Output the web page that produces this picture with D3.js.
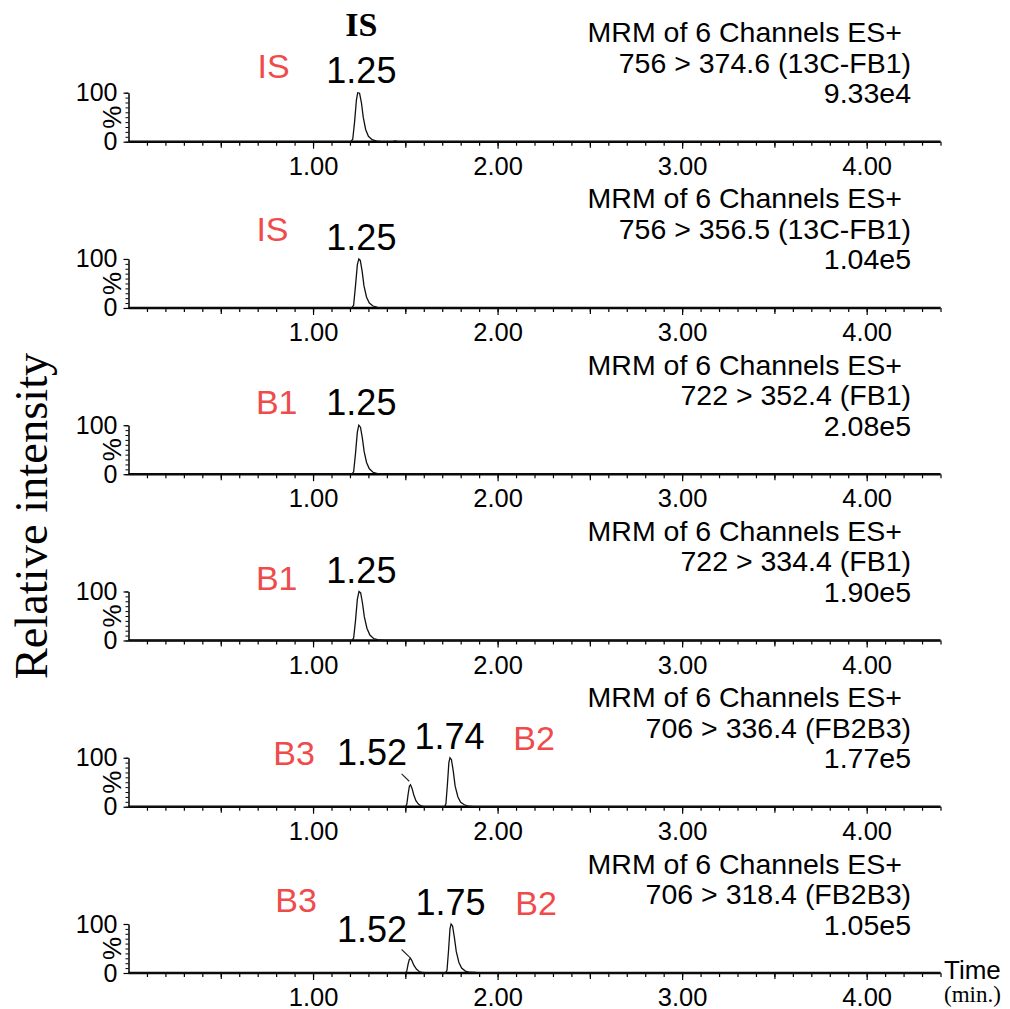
<!DOCTYPE html>
<html>
<head>
<meta charset="utf-8">
<script src="https://cdn.jsdelivr.net/npm/d3@7"></script>
<style>
  body { margin: 0; background: #fff; }
  svg { display: block; }
</style>
</head>
<body>
<div id="chart"></div>
<script>
// chart values
const timeDomain = [0, 4.4];
const majorTicks = [1, 2, 3, 4];
const minorTicks = d3.range(1, 45).map(i => i / 10);
const halfTicks = [0.5, 1.5, 2.5, 3.5];
const pctTicks = [0, 10, 20, 30, 40, 50, 60, 70, 80, 90, 100];

const headerLine = "MRM of 6 Channels ES+";
const transitions = [
  "756 > 374.6 (13C-FB1)",
  "756 > 356.5 (13C-FB1)",
  "722 > 352.4 (FB1)",
  "722 > 334.4 (FB1)",
  "706 > 336.4 (FB2B3)",
  "706 > 318.4 (FB2B3)"
];
const maxIntensity = ["9.33e4", "1.04e5", "2.08e5", "1.90e5", "1.77e5", "1.05e5"];

// compound names (red), placed at [time, percent]
const compoundLabels = [
  [{text: "IS", t: 0.786, pct: 129}],
  [{text: "IS", t: 0.78, pct: 137}],
  [{text: "B1", t: 0.803, pct: 122}],
  [{text: "B1", t: 0.803, pct: 103}],
  [{text: "B3", t: 0.897, pct: 86}, {text: "B2", t: 2.198, pct: 115}],
  [{text: "B3", t: 0.908, pct: 124}, {text: "B2", t: 2.209, pct: 118}]
];

// retention-time labels, placed at [time, percent]
const peakLabels = [
  [{text: "1.25", t: 1.262, pct: 119}],
  [{text: "1.25", t: 1.262, pct: 119}],
  [{text: "1.25", t: 1.262, pct: 120}],
  [{text: "1.25", t: 1.262, pct: 118}],
  [{text: "1.52", t: 1.32, pct: 86}, {text: "1.74", t: 1.74, pct: 118}],
  [{text: "1.52", t: 1.32, pct: 64}, {text: "1.75", t: 1.745, pct: 118}]
];

const leaders = [
  null, null, null, null,
  [[1.48, 67], [1.521, 52]],
  [[1.48, 48], [1.527, 31]]
];

// chromatogram traces [time, %]
const traces = [
  [[0,0],[1.205,0],[1.215,5],[1.225,40],[1.235,85],[1.242,100],[1.252,99],[1.262,80],[1.272,50],[1.285,25],[1.30,11],[1.32,4],[1.345,1],[1.37,0],[1.43,0],[1.445,1.5],[1.46,0],[4.4,0]],
  [[0,0],[1.21,0],[1.22,6],[1.23,45],[1.24,88],[1.248,100],[1.256,97],[1.266,75],[1.276,45],[1.29,22],[1.305,10],[1.325,4],[1.35,1],[1.375,0],[4.4,0]],
  [[0,0],[1.21,0],[1.22,5],[1.23,42],[1.24,86],[1.248,100],[1.257,96],[1.267,74],[1.277,46],[1.29,24],[1.305,11],[1.325,4],[1.35,1],[1.38,0],[4.4,0]],
  [[0,0],[1.21,0],[1.22,5],[1.23,40],[1.24,84],[1.249,100],[1.258,97],[1.268,76],[1.278,48],[1.292,25],[1.308,11],[1.328,4],[1.355,1],[1.385,0],[4.4,0]],
  [[0,0],[1.50,0],[1.508,5],[1.515,25],[1.522,42],[1.528,45],[1.536,38],[1.546,24],[1.558,12],[1.572,5],[1.59,1],[1.60,0],
   [1.712,0],[1.72,6],[1.728,45],[1.736,90],[1.742,100],[1.75,96],[1.76,72],[1.77,42],[1.785,20],[1.80,9],[1.82,4],[1.845,1],[1.87,0],[4.4,0]],
  [[0,0],[1.50,0],[1.508,4],[1.515,18],[1.522,28],[1.528,30],[1.536,25],[1.546,16],[1.56,8],[1.575,3],[1.595,1],[1.615,0],
   [1.718,0],[1.726,6],[1.734,45],[1.742,90],[1.748,100],[1.756,96],[1.766,72],[1.776,44],[1.79,22],[1.805,10],[1.825,4],[1.85,1.5],[1.88,1],[1.90,0],[4.4,0]]
];

const width = 1010, height = 1009;
const red = "#ef4b4b";
const sans = "'Liberation Sans', Arial, sans-serif";
const serif = "'Liberation Serif', 'Times New Roman', serif";

const svg = d3.select("#chart")
  .append("svg")
    .attr("width", width)
    .attr("height", height);

svg.append("rect")
  .attr("width", width)
  .attr("height", height)
  .attr("fill", "#fff");

const x = d3.scaleLinear()
  .domain(timeDomain)
  .range([128.5, 940.5]);

// baseline of each panel
const panelBase = d3.scaleLinear()
  .domain([0, transitions.length - 1])
  .range([141.7, 973]);

const line = d3.line();

transitions.forEach(function(tr, i) {
  const base = panelBase(i);
  const y = d3.scaleLinear().domain([0, 100]).range([base, base - 49]);
  const g = svg.append("g");

  // minor x ticks
  g.append("g")
    .attr("transform", `translate(0, ${base})`)
    .call(d3.axisBottom(x).tickValues(minorTicks).tickSize(4).tickFormat(""))
    .call(a => a.select(".domain").remove())
    .call(a => a.selectAll("line").attr("stroke-width", 1.2));

  g.append("g")
    .attr("transform", `translate(0, ${base})`)
    .call(d3.axisBottom(x).tickValues(halfTicks).tickSize(6).tickFormat(""))
    .call(a => a.select(".domain").remove())
    .call(a => a.selectAll("line").attr("stroke-width", 1.2));

  // major x ticks and labels
  g.append("g")
    .attr("transform", `translate(0, ${base})`)
    .call(d3.axisBottom(x).tickValues(majorTicks).tickSize(7).tickSizeOuter(0)
      .tickPadding(8).tickFormat(d3.format(".2f")))
    .call(a => a.select(".domain").attr("stroke-width", 2.6).attr("d", `M${x(0)},0H${x(4.4)}`))
    .call(a => a.selectAll("line").attr("stroke-width", 1.2))
    .call(a => a.selectAll("text")
      .attr("font-family", sans)
      .attr("font-size", 25.5)
      .attr("fill", "#000"));

  // y axis
  g.append("g")
    .attr("transform", `translate(${x(0)}, 0)`)
    .call(d3.axisLeft(y).tickValues(pctTicks).tickSize(3).tickSizeOuter(0).tickFormat(""))
    .call(a => a.select(".domain").attr("stroke-width", 1.5))
    .call(a => a.selectAll("line").attr("stroke-width", 1));

  g.append("g")
    .attr("transform", `translate(${x(0)}, 0)`)
    .call(d3.axisLeft(y).tickValues([0, 100]).tickSize(5).tickPadding(6))
    .call(a => a.select(".domain").remove())
    .call(a => a.selectAll("line").attr("stroke-width", 1.2))
    .call(a => a.selectAll("text")
      .attr("font-family", sans)
      .attr("font-size", 25)
      .attr("fill", "#000"));

  g.append("text")
    .attr("transform", `translate(${x(0) - 8}, ${y(50)}) rotate(-90)`)
    .attr("text-anchor", "middle")
    .attr("font-family", sans)
    .attr("font-size", 26)
    .text("%");

  // trace
  g.append("path")
    .attr("d", line(traces[i].map(p => [x(p[0]), y(p[1])])))
    .attr("fill", "none")
    .attr("stroke", "#111")
    .attr("stroke-width", 1.3);

  if (leaders[i]) {
    g.append("path")
      .attr("d", line(leaders[i].map(p => [x(p[0]), y(p[1])])))
      .attr("stroke", "#222")
      .attr("stroke-width", 1.1);
  }

  // header text on the right
  g.append("text")
    .attr("x", 902).attr("y", base - 99.5)
    .attr("text-anchor", "end")
    .attr("font-family", sans).attr("font-size", 28.5)
    .text(headerLine);
  g.append("text")
    .attr("x", 911).attr("y", base - 69)
    .attr("text-anchor", "end")
    .attr("font-family", sans).attr("font-size", 28.5)
    .text(tr);
  g.append("text")
    .attr("x", 911).attr("y", base - 38.5)
    .attr("text-anchor", "end")
    .attr("font-family", sans).attr("font-size", 28.5)
    .text(maxIntensity[i]);

  g.selectAll(".cmp")
    .data(compoundLabels[i])
    .enter()
    .append("text")
      .attr("x", d => x(d.t))
      .attr("y", d => y(d.pct))
      .attr("text-anchor", "middle")
      .attr("font-family", sans)
      .attr("font-size", 34)
      .attr("fill", red)
      .text(d => d.text);

  g.selectAll(".rt")
    .data(peakLabels[i])
    .enter()
    .append("text")
      .attr("x", d => x(d.t))
      .attr("y", d => y(d.pct))
      .attr("text-anchor", "middle")
      .attr("font-family", sans)
      .attr("font-size", 36)
      .attr("fill", "#000")
      .text(d => d.text);
});

// top header
svg.append("text")
  .attr("x", x(1.262))
  .attr("y", 36)
  .attr("text-anchor", "middle")
  .attr("font-family", serif)
  .attr("font-weight", "bold")
  .attr("font-size", 34)
  .text("IS");

// y title
svg.append("text")
  .attr("transform", "translate(47, 516) rotate(-90)")
  .attr("text-anchor", "middle")
  .attr("font-family", serif)
  .attr("font-size", 46.5)
  .text("Relative intensity");

// x title
svg.append("text")
  .attr("x", 944).attr("y", 979)
  .attr("font-family", sans)
  .attr("font-size", 26)
  .text("Time");
svg.append("text")
  .attr("x", 944).attr("y", 1002)
  .attr("font-family", serif)
  .attr("font-size", 23)
  .text("(min.)");
</script>
</body>
</html>
